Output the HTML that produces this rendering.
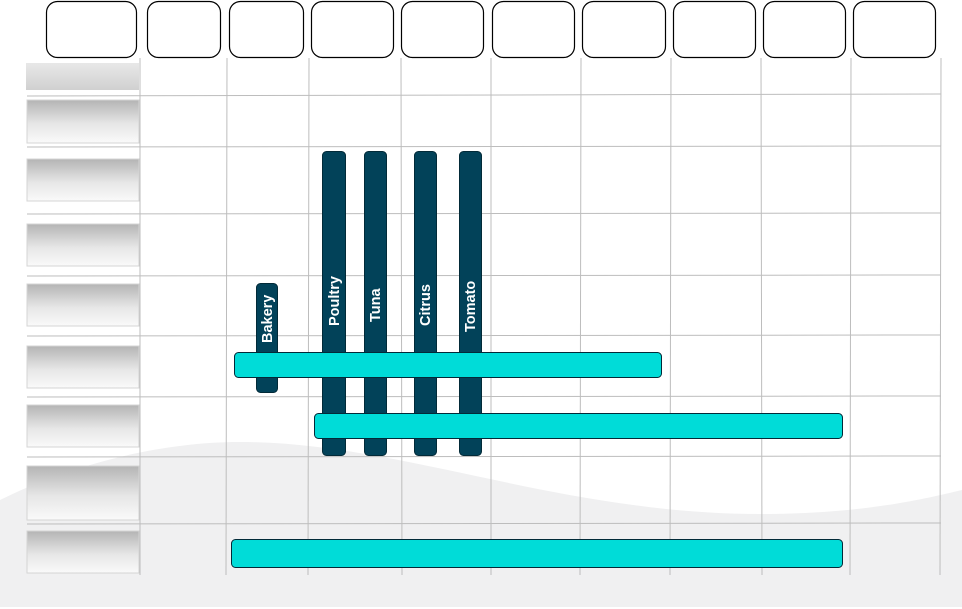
<!DOCTYPE html>
<html><head><meta charset="utf-8"><style>
html,body{margin:0;padding:0;background:#fff;}
svg{display:block;}
text{font-family:"Liberation Sans",Arial,sans-serif;font-weight:bold;font-size:14.5px;fill:#fff;}
</style></head><body>
<svg width="962" height="609" viewBox="0 0 962 609" xmlns="http://www.w3.org/2000/svg">
<defs>
<linearGradient id="g" x1="0" y1="0" x2="0" y2="1">
<stop offset="0" stop-color="#b4b4b4"/><stop offset="0.55" stop-color="#e6e6e6"/><stop offset="1" stop-color="#fafafa"/>
</linearGradient>
<linearGradient id="g2" x1="0" y1="0" x2="0" y2="1">
<stop offset="0" stop-color="#e8e8e8"/><stop offset="1" stop-color="#d0d0d0"/>
</linearGradient>
</defs>
<path d="M0,500 C60,470 150,442 240,442 C400,442 560,514 760,514 C860,514 920,500 962,490 L962,607 L0,607 Z" fill="#f0f0f1"/>
<g stroke="#bdbdbd" stroke-width="1" fill="none">
<line x1="27" y1="96" x2="941" y2="94"/>
<line x1="27" y1="147" x2="941" y2="146"/>
<line x1="27" y1="214" x2="941" y2="213"/>
<line x1="27" y1="276" x2="941" y2="275"/>
<line x1="27" y1="336" x2="941" y2="335"/>
<line x1="27" y1="397" x2="941" y2="396"/>
<line x1="27" y1="457" x2="941" y2="456"/>
<line x1="27" y1="524" x2="941" y2="523"/>
<line x1="140" y1="58" x2="140" y2="575"/>
<line x1="227" y1="58" x2="226" y2="575"/>
<line x1="309" y1="58" x2="308" y2="575"/>
<line x1="401" y1="58" x2="402" y2="575"/>
<line x1="491" y1="58" x2="491" y2="575"/>
<line x1="581" y1="58" x2="580" y2="575"/>
<line x1="671" y1="58" x2="670" y2="575"/>
<line x1="761" y1="58" x2="762" y2="575"/>
<line x1="851" y1="58" x2="850" y2="575"/>
<line x1="941" y1="58" x2="940" y2="575"/>
</g>
<g stroke="#d4d4d4" stroke-width="1">
<rect x="26" y="63" width="113" height="27" fill="url(#g2)" stroke="none"/>
<rect x="27" y="100" width="112" height="43" fill="url(#g)"/>
<rect x="27" y="159" width="112" height="42" fill="url(#g)"/>
<rect x="27" y="224" width="112" height="42" fill="url(#g)"/>
<rect x="27" y="284" width="112" height="42" fill="url(#g)"/>
<rect x="27" y="346" width="112" height="42" fill="url(#g)"/>
<rect x="27" y="405" width="112" height="42" fill="url(#g)"/>
<rect x="27" y="466" width="112" height="54" fill="url(#g)"/>
<rect x="27" y="531" width="112" height="42" fill="url(#g)"/>
</g>
<g stroke="#000" stroke-width="1.2" fill="#fff">
<rect x="46.5" y="1.5" width="90" height="56" rx="11"/>
<rect x="147.5" y="1.5" width="73" height="56" rx="11"/>
<rect x="229.5" y="1.5" width="74" height="56" rx="11"/>
<rect x="311.5" y="1.5" width="82" height="56" rx="11"/>
<rect x="401.5" y="1.5" width="82" height="56" rx="11"/>
<rect x="492.5" y="1.5" width="82" height="56" rx="11"/>
<rect x="582.5" y="1.5" width="83" height="56" rx="11"/>
<rect x="673.5" y="1.5" width="82" height="56" rx="11"/>
<rect x="763.5" y="1.5" width="82" height="56" rx="11"/>
<rect x="853.5" y="1.5" width="82" height="56" rx="11"/>
</g>
<g fill="#024259" stroke="#022a38" stroke-width="1">
<rect x="256.5" y="283.5" width="21" height="109" rx="4"/>
<rect x="322.5" y="151.5" width="23" height="304" rx="4"/>
<rect x="364.5" y="151.5" width="22" height="304" rx="4"/>
<rect x="414.5" y="151.5" width="22" height="304" rx="4"/>
<rect x="459.5" y="151.5" width="22" height="304" rx="4"/>
</g>
<text transform="translate(272,343) rotate(-90)">Bakery</text>
<text transform="translate(339,326) rotate(-90)">Poultry</text>
<text transform="translate(380,322) rotate(-90)">Tuna</text>
<text transform="translate(430,326) rotate(-90)">Citrus</text>
<text transform="translate(475,332) rotate(-90)">Tomato</text>
<g fill="#00dcd8" stroke="#022a38" stroke-width="1">
<rect x="234.5" y="352.5" width="427" height="25" rx="4"/>
<rect x="314.5" y="413.5" width="528" height="25" rx="4"/>
<rect x="231.5" y="539.5" width="611" height="28" rx="4"/>
</g>
</svg>
</body></html>
